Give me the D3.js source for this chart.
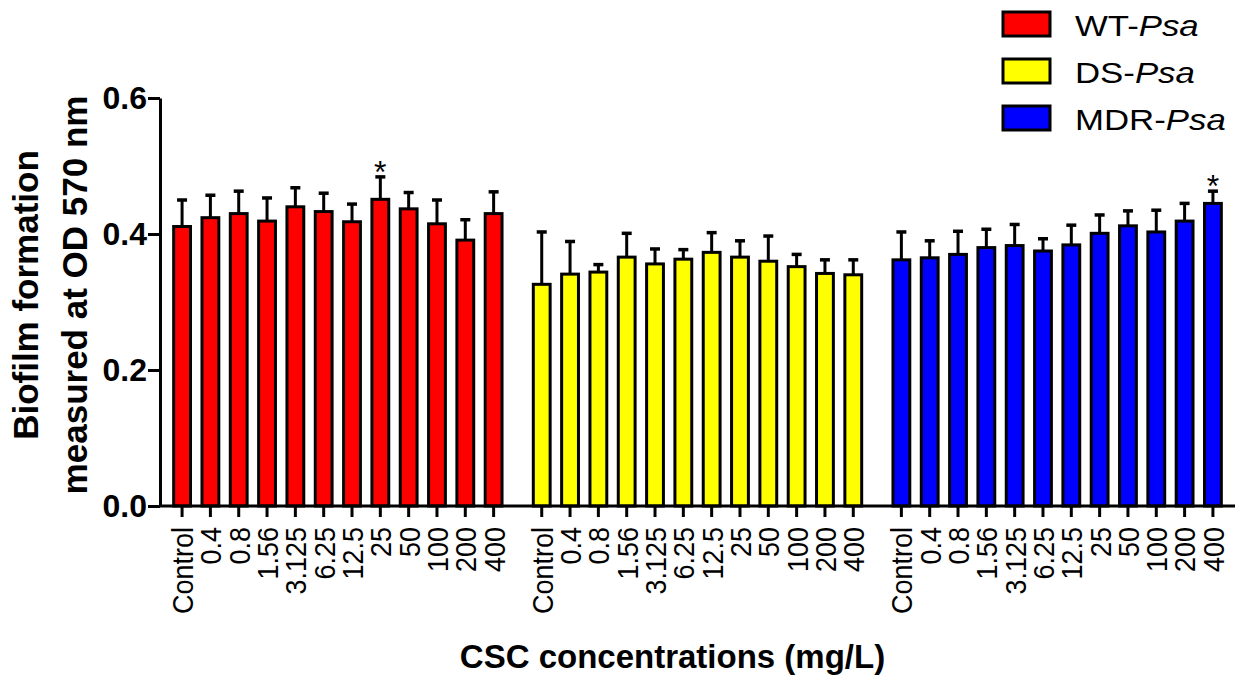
<!DOCTYPE html>
<html>
<head>
<meta charset="utf-8">
<script src="https://cdn.jsdelivr.net/npm/d3@7"></script>
<style>
  body { margin: 0; background: #fff; }
  svg { display: block; font-family: 'Liberation Sans', Arial, sans-serif; }
</style>
</head>
<body>
<div id="chart"></div>
<script>
// data
const concentrations = ['Control', '0.4', '0.8', '1.56', '3.125', '6.25', '12.5', '25', '50', '100', '200', '400'];
const strains = ['WT', 'DS', 'MDR'];
const strainColors = ['#ff0000', '#ffff00', '#0000ff'];

const wtMean = [0.411, 0.424, 0.430, 0.419, 0.440, 0.433, 0.418, 0.451, 0.437, 0.415, 0.391, 0.430];
const wtErr  = [0.039, 0.033, 0.033, 0.034, 0.028, 0.027, 0.026, 0.033, 0.024, 0.035, 0.030, 0.032];
const dsMean = [0.326, 0.341, 0.344, 0.366, 0.356, 0.363, 0.373, 0.366, 0.360, 0.352, 0.342, 0.340];
const dsErr  = [0.077, 0.048, 0.011, 0.035, 0.022, 0.014, 0.029, 0.024, 0.037, 0.018, 0.020, 0.022];
const mdrMean = [0.362, 0.365, 0.370, 0.380, 0.383, 0.375, 0.384, 0.401, 0.412, 0.403, 0.419, 0.445];
const mdrErr  = [0.041, 0.025, 0.034, 0.027, 0.031, 0.018, 0.029, 0.027, 0.022, 0.032, 0.026, 0.018];

const significant = [{strain: 'WT', conc: '25'}, {strain: 'MDR', conc: '400'}];
const yTicks = [0, 0.2, 0.4, 0.6];

const means = [wtMean, dsMean, mdrMean];
const errs = [wtErr, dsErr, mdrErr];

const data = [];
strains.forEach((s, si) => {
    concentrations.forEach((c, ci) => {
        data.push({strain: s, conc: c, value: means[si][ci], err: errs[si][ci], color: strainColors[si]});
    });
});

const width = 1238, height = 677;
const margin = {left: 160, right: 3, top: 98, bottom: 171};

const svg = d3.select('#chart')
    .append('svg')
    .attr('width', width)
    .attr('height', height);

const yScale = d3.scaleLinear()
    .domain([0, 0.6])
    .range([height - margin.bottom, margin.top]);

const xGroup = d3.scaleBand()
    .domain(strains)
    .range([margin.left, width - margin.right])
    .paddingInner(0.055)
    .paddingOuter(0.022);

const xInner = d3.scaleBand()
    .domain(concentrations)
    .range([0, xGroup.bandwidth()])
    .paddingInner(0.3)
    .paddingOuter(0.15);

const barX = d => xGroup(d.strain) + xInner(d.conc);
const barCx = d => barX(d) + xInner.bandwidth() / 2;
const stroke = 3;

// bars
svg.selectAll('.bar')
    .data(data)
    .enter()
    .append('rect')
    .attr('class', 'bar')
    .attr('x', d => barX(d) + stroke / 2)
    .attr('y', d => yScale(d.value))
    .attr('width', xInner.bandwidth() - stroke)
    .attr('height', d => yScale(0) - yScale(d.value))
    .attr('fill', d => d.color)
    .attr('stroke', '#000')
    .attr('stroke-width', stroke);

// error bars (upper only)
svg.selectAll('.err-line')
    .data(data)
    .enter()
    .append('line')
    .attr('class', 'err-line')
    .attr('x1', barCx).attr('x2', barCx)
    .attr('y1', d => yScale(d.value))
    .attr('y2', d => yScale(d.value + d.err))
    .attr('stroke', '#000')
    .attr('stroke-width', 3);

svg.selectAll('.err-cap')
    .data(data)
    .enter()
    .append('line')
    .attr('class', 'err-cap')
    .attr('x1', d => barCx(d) - 5).attr('x2', d => barCx(d) + 5)
    .attr('y1', d => yScale(d.value + d.err))
    .attr('y2', d => yScale(d.value + d.err))
    .attr('stroke', '#000')
    .attr('stroke-width', 3.5);

// significance stars
const starData = data.filter(d => significant.some(s => s.strain === d.strain && s.conc === d.conc));
svg.selectAll('.star')
    .data(starData)
    .enter()
    .append('text')
    .attr('class', 'star')
    .attr('x', barCx)
    .attr('y', d => yScale(d.value + d.err) + 6)
    .attr('text-anchor', 'middle')
    .attr('font-size', '32px')
    .text('*');

// y axis
const yAxis = svg.append('g')
    .attr('transform', `translate(${margin.left},0)`)
    .call(d3.axisLeft(yScale).tickValues(yTicks).tickFormat(d3.format('.1f')).tickSize(12).tickSizeOuter(0));
yAxis.select('.domain').attr('stroke-width', 3);
yAxis.selectAll('.tick line').attr('stroke-width', 3);
yAxis.selectAll('.tick text')
    .attr('x', -13)
    .attr('font-size', '32px')
    .attr('font-weight', 'bold')
    .attr('fill', '#000');

// x axis line
svg.append('line')
    .attr('x1', xGroup.range()[0]).attr('x2', xGroup.range()[1])
    .attr('y1', yScale(0)).attr('y2', yScale(0))
    .attr('stroke', '#000')
    .attr('stroke-width', 3);

// x ticks per group
strains.forEach(s => {
    const g = svg.append('g')
        .attr('transform', `translate(${xGroup(s)},${yScale(0)})`)
        .call(d3.axisBottom(xInner).tickSize(11));
    g.select('.domain').remove();
    g.selectAll('.tick line').attr('stroke-width', 3);
    g.selectAll('.tick text')
        .attr('transform', 'rotate(-90) scale(1,1.12)')
        .attr('text-anchor', 'end')
        .attr('x', -21)
        .attr('y', 0)
        .attr('dy', '0.36em')
        .attr('font-size', '27px')
        .attr('fill', '#000');
});

// axis titles
svg.append('text')
    .attr('x', (xGroup.range()[0] + xGroup.range()[1]) / 2 - 25)
    .attr('y', 668)
    .attr('text-anchor', 'middle')
    .attr('font-size', '33px')
    .attr('font-weight', 'bold')
    .text('CSC concentrations (mg/L)');

const yTitle = ['Biofilm formation', 'measured at OD 570 nm'];
svg.selectAll('.y-title')
    .data(yTitle)
    .enter()
    .append('text')
    .attr('class', 'y-title')
    .attr('transform', (d, i) => `translate(${38 + i * 49},295) rotate(-90)`)
    .attr('text-anchor', 'middle')
    .attr('font-size', '35px')
    .attr('font-weight', 'bold')
    .text(d => d);

// legend
const legendNames = ['WT-', 'DS-', 'MDR-'];
const legend = svg.selectAll('.legend')
    .data(strains)
    .enter()
    .append('g')
    .attr('class', 'legend')
    .attr('transform', (d, i) => `translate(1003,${12 + i * 47})`);

legend.append('rect')
    .attr('width', 47)
    .attr('height', 24)
    .attr('fill', (d, i) => strainColors[i])
    .attr('stroke', '#000')
    .attr('stroke-width', 3);

const legendText = legend.append('text')
    .attr('transform', 'translate(72,24) scale(1.16,1)')
    .attr('font-size', '30px');
legendText.append('tspan').text((d, i) => legendNames[i]);
legendText.append('tspan').attr('font-style', 'italic').text('Psa');
</script>
</body>
</html>
